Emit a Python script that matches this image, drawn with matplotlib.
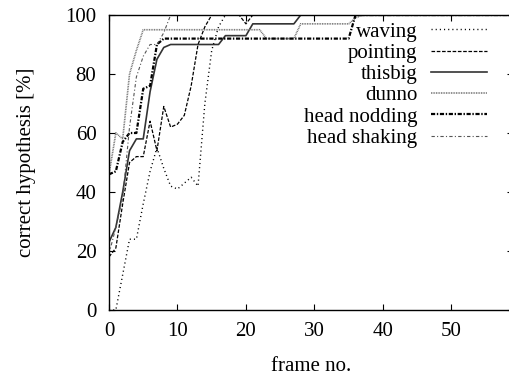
import matplotlib
matplotlib.use("Agg")
import matplotlib.pyplot as plt

plt.rcParams['font.family'] = ['Liberation Serif', 'DejaVu Serif']
plt.rcParams['lines.scale_dashes'] = False

frames = list(range(60))

waving = [0, 0, 12, 24, 24, 36, 47, 55, 48, 42, 41, 43, 45, 42, 70, 88, 96, 100,
          100, 100, 100, 100, 100, 100, 100, 100, 100, 100, 100, 100,
          100, 100, 100, 100, 100, 100, 100, 100, 100, 100, 100, 100,
          100, 100, 100, 100, 100, 100, 100, 100, 100, 100, 100, 100,
          100, 100, 100, 100, 100, 100]
pointing = [18, 21, 36, 50, 52, 52, 64, 54, 69, 62, 63, 66, 76, 90, 96, 100,
            100, 100, 100, 100, 97, 100, 100, 100, 100, 100, 100, 100, 100, 100,
            100, 100, 100, 100, 100, 100, 100, 100, 100, 100, 100, 100,
            100, 100, 100, 100, 100, 100, 100, 100, 100, 100, 100, 100,
            100, 100, 100, 100, 100, 100]
thisbig = [23, 28, 40, 54, 58, 58, 74, 85, 89, 90, 90, 90, 90, 90, 90, 90, 90,
           93, 93, 93, 93, 97, 97, 97, 97, 97, 97, 97, 100, 100,
           100, 100, 100, 100, 100, 100, 100, 100, 100, 100, 100, 100,
           100, 100, 100, 100, 100, 100, 100, 100, 100, 100, 100, 100,
           100, 100, 100, 100, 100, 100]
dunno = [46, 60, 58, 80, 88, 95, 95, 95, 95, 95, 95, 95, 95, 95, 95, 95, 95,
         95, 95, 95, 95, 95, 95, 92, 92, 92, 92, 92, 97, 97, 97, 97, 97, 97,
         97, 97, 99, 100, 100, 100, 100, 100, 100, 100, 100, 100, 100, 100,
         100, 100, 100, 100, 100, 100, 100, 100, 100, 100, 100, 100]
head_nodding = [46, 47, 57, 60, 60, 75, 76, 90, 92, 92, 92, 92, 92, 92, 92, 92,
                92, 92, 92, 92, 92, 92, 92, 92, 92, 92, 92, 92, 92, 92, 92, 92,
                92, 92, 92, 92, 100, 100, 100, 100, 100, 100, 100, 100, 100, 100,
                100, 100, 100, 100, 100, 100, 100, 100, 100, 100, 100, 100, 100, 100]
head_shaking = [19, 28, 38, 62, 79, 86, 90, 90, 94, 100,
                100, 100, 100, 100, 100, 100, 100, 100, 100, 100, 100, 100,
                100, 100, 100, 100, 100, 100, 100, 100, 100, 100, 100, 100,
                100, 100, 100, 100, 100, 100, 100, 100, 100, 100, 100, 100,
                100, 100, 100, 100, 100, 100, 100, 100, 100, 100, 100, 100,
                100, 100]

labels = ["waving", "pointing", "thisbig", "dunno", "head nodding", "head shaking"]
xticks = [0, 10, 20, 30, 40, 50]
yticks = [0, 20, 40, 60, 80, 100]

W, H = 509, 375
fig = plt.figure(figsize=(W / 100, H / 100), dpi=100)
ax = fig.add_axes([109 / W, (H - 310) / H, 404 / W, 295 / H])

styles = [
    dict(color="black", lw=1.0, linestyle=(0, (0.8, 2.2))),
    dict(color="black", lw=0.9, linestyle=(0, (2.6, 1.2))),
    dict(color="#333333", lw=1.2, linestyle="-"),
    dict(color="#666666", lw=1.2, linestyle=(0, (0.6, 0.6))),
    dict(color="black", lw=1.6, linestyle=(0, (3.0, 1.2, 1.0, 1.2))),
    dict(color="#555555", lw=0.8, linestyle=(0, (2.4, 1.6, 0.8, 1.6))),
]
series = [waving, pointing, thisbig, dunno, head_nodding, head_shaking]
for s, lab, st in zip(series, labels, styles):
    ax.plot(frames, s, label=lab, **st)

ax.set_xlim(0, 59)
ax.set_ylim(0, 100)
ax.set_xticks(xticks)
ax.set_yticks(yticks)
ax.tick_params(direction="in", length=4.3, width=0.8, top=True, right=True,
               labelsize=15, pad=9)
for sp in ax.spines.values():
    sp.set_linewidth(1.0)

ax.set_xlabel("frame no.", fontsize=15, labelpad=11)
ax.set_ylabel("correct hypothesis [%]", fontsize=15, labelpad=21)

leg = ax.legend(loc="upper right", bbox_to_anchor=(487 / W, 1 - 22 / H),
                bbox_transform=fig.transFigure, frameon=False, fontsize=15,
                markerfirst=False, handlelength=2.7, handletextpad=0.65,
                labelspacing=0.08, borderpad=0.0, borderaxespad=0.0)

fig.savefig("out.png", dpi=100)
